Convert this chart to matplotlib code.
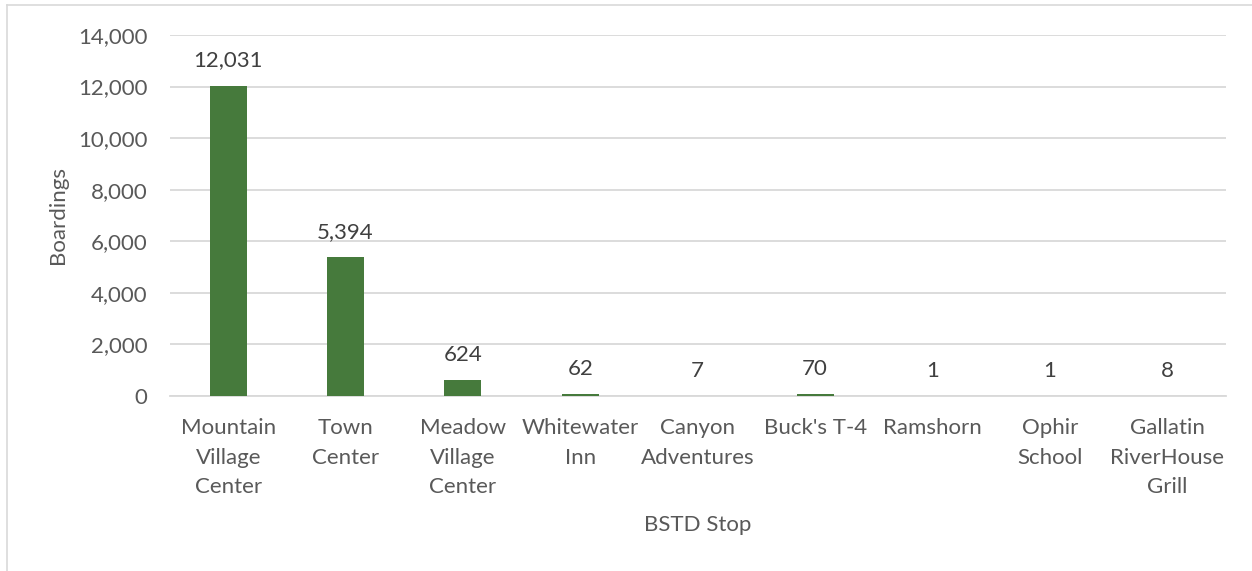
import matplotlib
matplotlib.use("Agg")
import matplotlib.pyplot as plt
from matplotlib.lines import Line2D

stops = [
    "Mountain\nVillage\nCenter",
    "Town\nCenter",
    "Meadow\nVillage\nCenter",
    "Whitewater\nInn",
    "Canyon\nAdventures",
    "Buck's T-4",
    "Ramshorn",
    "Ophir\nSchool",
    "Gallatin\nRiverHouse\nGrill",
]
boardings = [12031, 5394, 624, 62, 7, 70, 1, 1, 8]
y_ticks = [0, 2000, 4000, 6000, 8000, 10000, 12000, 14000]

text_color = "#595959"
grid_color = "#D9D9D9"
bar_color = "#467A3C"
fs = 16

plt.rcParams["font.family"] = ["Lato", "DejaVu Sans"]

W, H = 1252, 571
fig = plt.figure(figsize=(W / 100, H / 100), dpi=100)
ax = fig.add_axes([169.5 / W, 1 - 396 / H, (1226 - 169.5) / W, (396 - 35) / H])

x = range(len(stops))
ax.bar(x, boardings, width=0.315, color=bar_color, zorder=3)

for xi, v in zip(x, boardings):
    ax.annotate(f"{v:,}", (xi, v), xytext=(0, 11), textcoords="offset points",
                ha="center", va="bottom", fontsize=fs, color="#404040")

ax.set_xlim(-0.5, len(stops) - 0.5)
ax.set_ylim(0, 14000)
ax.set_yticks(y_ticks)
ax.set_yticklabels([f"{t:,}" for t in y_ticks])
ax.set_xticks(list(x))
ax.set_xticklabels(stops, linespacing=1.6)

ax.tick_params(axis="both", length=0, labelsize=fs, colors=text_color)
ax.tick_params(axis="y", pad=16)
ax.tick_params(axis="x", pad=16)
ax.grid(axis="y", color=grid_color, linewidth=1.3, zorder=0)
for side in ("top", "right", "left"):
    ax.spines[side].set_visible(False)
ax.spines["bottom"].set_color(grid_color)
ax.spines["bottom"].set_linewidth(1.3)

ax.set_ylabel("Boardings", fontsize=fs, color=text_color, labelpad=7)
ax.set_xlabel("BSTD Stop", fontsize=fs, color=text_color, labelpad=13)

# thin frame around the chart area (top and left only)
fig.add_artist(Line2D([7 / W, 1], [1 - 5 / H, 1 - 5 / H], color=grid_color, linewidth=1.2))
fig.add_artist(Line2D([7 / W, 7 / W], [0, 1 - 5 / H], color=grid_color, linewidth=1.2))

fig.savefig("out.png", dpi=100, facecolor="white")
